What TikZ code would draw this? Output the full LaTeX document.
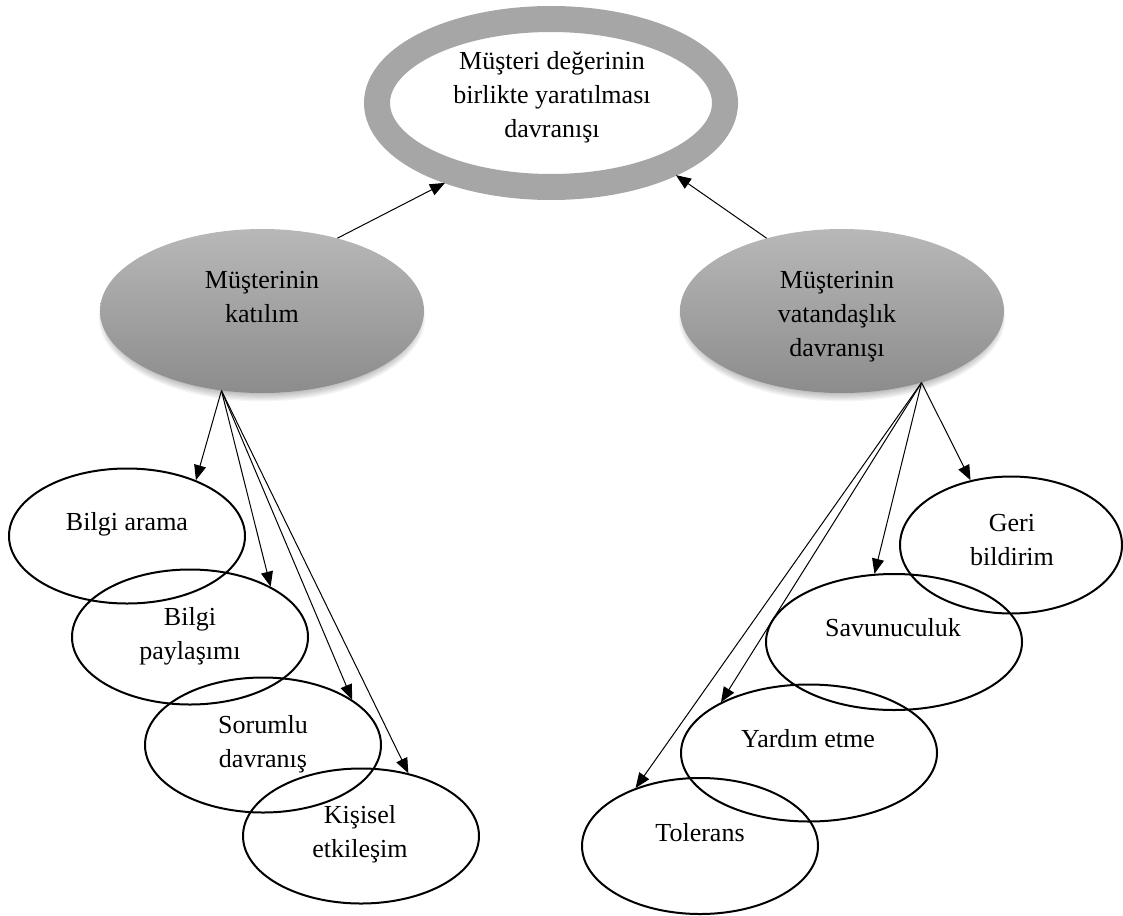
\documentclass[tikz,border=0pt]{standalone}
\usepackage{fontspec}
\setmainfont{Liberation Serif}
\usetikzlibrary{arrows.meta,shapes.geometric}

\definecolor{ringgray}{RGB}{166,166,166}
\definecolor{ovaltop}{RGB}{184,184,184}
\definecolor{ovalbottom}{RGB}{140,140,140}

% centred lines whose baseline is the baseline of the first line
\newcommand{\celltext}[1]{\begin{tabular}[t]{@{}c@{}}#1\end{tabular}}

\begin{document}
\begin{tikzpicture}[x=1pt,y=-1pt,
  txt/.style={anchor=base, inner sep=0pt, font=\fontsize{26}{34}\selectfont},
  ring/.style={ellipse, draw=ringgray, line width=26pt, fill=white, inner sep=0pt,
    minimum width=348pt, minimum height=168pt},
  grayoval/.style={ellipse, inner sep=0pt, top color=ovaltop, bottom color=ovalbottom,
    minimum width=324pt, minimum height=164pt},
  oval/.style={ellipse, draw=black, line width=2pt, inner sep=0pt,
    minimum height=135pt},
  link/.style={line width=1pt, -{Triangle[length=15pt,width=12pt]}},
]
\useasboundingbox (0,0) rectangle (1123,915);

% soft shadows under the two grey ovals
\foreach \cx in {262,842}{
  \foreach \k in {1,...,7}{
    \fill[black, opacity=0.04] (\cx,317) ellipse [x radius={155+\k*1.2}, y radius={76+\k*1.2}];
  }
}

% main construct
\node[ring] (cv) at (551,103) {};
\node[txt] (cv-t) at (552,70) {\celltext{Müşteri değerinin\\birlikte yaratılması\\davranışı}};

% the two dimensions
\node[grayoval] (kat) at (262,311) {};
\node[txt] (kat-t) at (262,288) {\celltext{Müşterinin\\katılım}};
\node[grayoval] (vat) at (842,311) {};
\node[txt] (vat-t) at (837,288) {\celltext{Müşterinin\\vatandaşlık\\davranışı}};

% participation behaviours
\node[oval, minimum width=236pt] (ba) at (127,536) {};
\node[oval, minimum width=236pt] (bp) at (190,637) {};
\node[oval, minimum width=236pt] (sd) at (263,745) {};
\node[oval, minimum width=236pt] (ke) at (361,836) {};
\node[txt] (ba-t) at (127,530) {Bilgi arama};
\node[txt] (bp-t) at (190,625) {\celltext{Bilgi\\paylaşımı}};
\node[txt] (sd-t) at (263,733) {\celltext{Sorumlu\\davranış}};
\node[txt] (ke-t) at (360,823) {\celltext{Kişisel\\etkileşim}};

% citizenship behaviours
\node[oval, minimum width=222pt, minimum height=137pt] (gb) at (1011,545) {};
\node[oval, minimum width=256pt, minimum height=136pt] (sv) at (894,642) {};
\node[oval, minimum width=256pt, minimum height=137pt] (ye) at (809,753) {};
\node[oval, minimum width=236pt, minimum height=136pt] (tl) at (700,846) {};
\node[txt] (gb-t) at (1012,531) {\celltext{Geri\\bildirim}};
\node[txt] (sv-t) at (893,636) {Savunuculuk};
\node[txt] (ye-t) at (808,747) {Yardım etme};
\node[txt] (tl-t) at (700,841) {Tolerans};

% connectors
\draw[link] (kat.44) -- (cv.217);
\draw[link] (vat.136) -- (cv.330);

\draw[link] (kat.243) -- (ba.39);
\draw[link] (kat.243) -- (bp.32);
\draw[link] (kat.243) -- (sd.27);
\draw[link] (kat.243) -- (ke.53);

\draw[link] (vat.318) -- (gb.122);
\draw[link] (vat.318) -- (sv.106);
\draw[link] (vat.318) -- (ye.150);
\draw[link] (vat.318) -- (tl.138);
\end{tikzpicture}
\end{document}
